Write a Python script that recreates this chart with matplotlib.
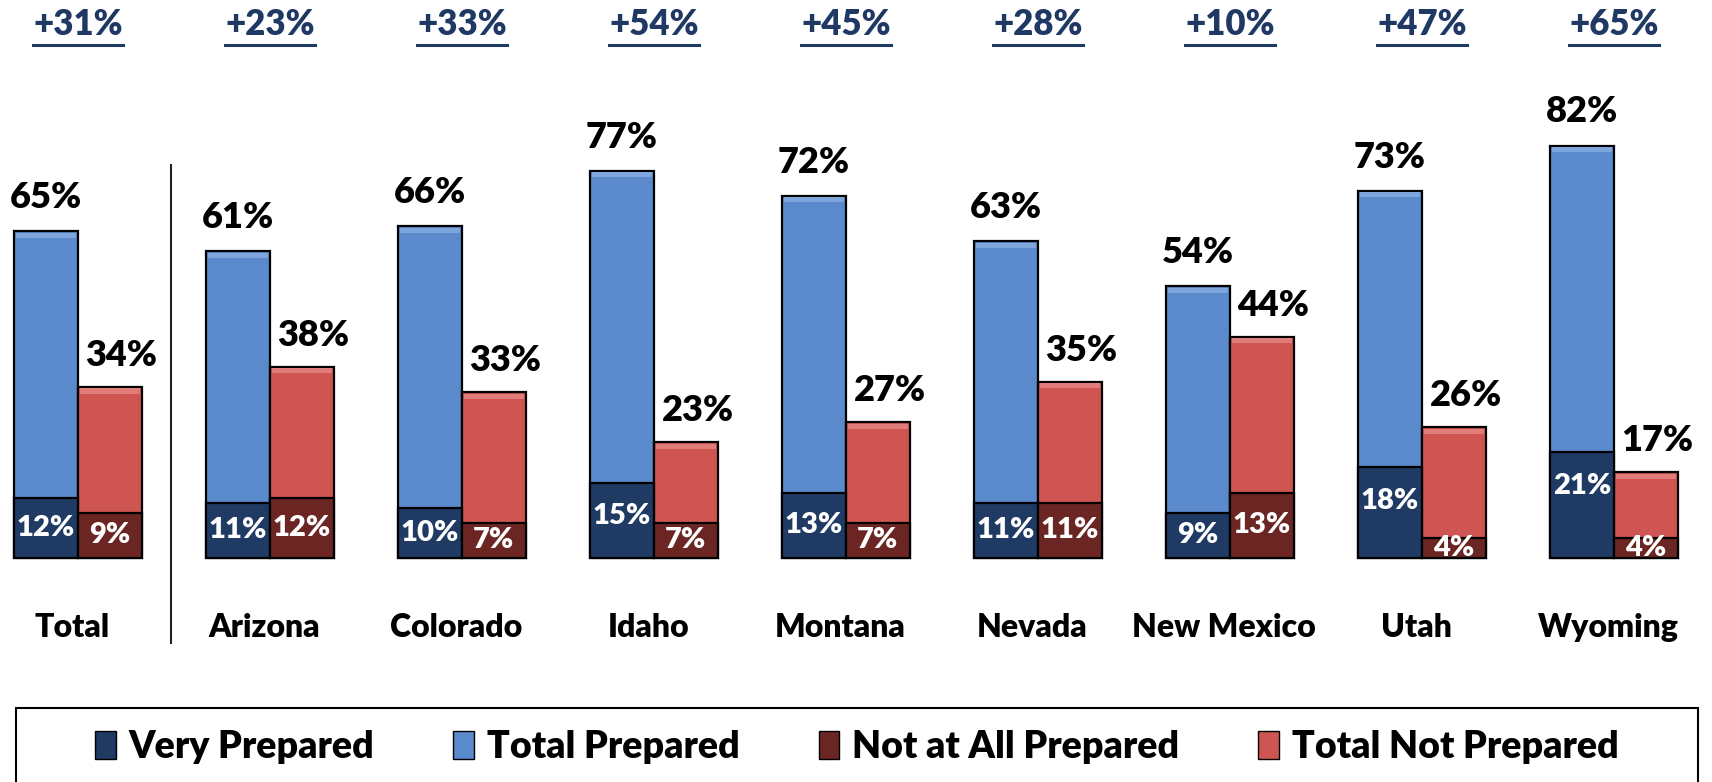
import matplotlib
matplotlib.use('Agg')
import matplotlib.pyplot as plt
import numpy as np
from matplotlib.patches import Patch, Rectangle
from matplotlib.lines import Line2D
from matplotlib.transforms import Bbox, TransformedBbox

plt.rcParams['font.family'] = ['Lato', 'DejaVu Sans']
plt.rcParams['font.weight'] = 'heavy'

categories = ['Total', 'Arizona', 'Colorado', 'Idaho', 'Montana', 'Nevada', 'New Mexico', 'Utah', 'Wyoming']
total_prepared = [65, 61, 66, 77, 72, 63, 54, 73, 82]
very_prepared = [12, 11, 10, 15, 13, 11, 9, 18, 21]
total_not_prepared = [34, 38, 33, 23, 27, 35, 44, 26, 17]
not_at_all_prepared = [9, 12, 7, 7, 7, 11, 13, 4, 4]
gap_labels = ['+31%', '+23%', '+33%', '+54%', '+45%', '+28%', '+10%', '+47%', '+65%']

c_blue = '#5A8ACB'
c_dblue = '#1F3A63'
c_red = '#CF5552'
c_dred = '#6B2624'
c_navy = '#1F3864'
wt = 'heavy'

fig = plt.figure(figsize=(17.12, 7.82), dpi=100)
ax = fig.add_axes([0, 0, 1, 1])
ax.set_xlim(-46 / 192, (1712 - 46) / 192)
ax.set_ylim(-(782 - 558) / 5.03, 558 / 5.03)
ax.axis('off')

x = np.arange(len(categories))
w = 1 / 3
xr = x + w
edge = dict(edgecolor='black', linewidth=1.6)

ax.bar(x, total_prepared, w, color=c_blue, **edge, zorder=2)
ax.bar(x, very_prepared, w, color=c_dblue, **edge, zorder=3)
ax.bar(xr, total_not_prepared, w, color=c_red, **edge, zorder=2)
ax.bar(xr, not_at_all_prepared, w, color=c_dred, **edge, zorder=3)

# top highlight strip for a bit of bevel look
for xs, vals, col in [(x, total_prepared, '#7FA6DC'), (xr, total_not_prepared, '#E07C79')]:
    for xi, v in zip(xs, vals):
        ax.add_patch(Rectangle((xi - w / 2 + 0.01, v - 1.3), w - 0.02, 1.0,
                               color=col, lw=0, zorder=4))

clip = TransformedBbox(Bbox([[-1, 0], [10, 200]]), ax.transData)

for i in range(len(categories)):
    ax.text(x[i], total_prepared[i] + 4.6, f'{total_prepared[i]}%', ha='center',
            va='baseline', fontsize=26, fontweight=wt, color='black')
    ax.text(xr[i] + 0.06, total_not_prepared[i] + 4.2, f'{total_not_prepared[i]}%',
            ha='center', va='baseline', fontsize=26, fontweight=wt, color='black')
    for xx, v in [(x[i], very_prepared[i]), (xr[i], not_at_all_prepared[i])]:
        t = ax.text(xx, max(v - 6.7, v / 2), f'{v}%', ha='center', va='center',
                    fontsize=21, fontweight=wt, color='white', zorder=6)
        t.set_clip_box(clip)
        t.set_clip_on(True)
    ax.text(x[i] + w / 2 - 0.03, -13.9, categories[i], ha='center', va='center',
            fontsize=23, fontweight=wt, color='black')

gap_texts = []
for i in range(len(categories)):
    t = ax.text(x[i] + w / 2, 106.0, gap_labels[i], ha='center', va='center',
                fontsize=25, fontweight=wt, color=c_navy)
    gap_texts.append(t)

# divider between Total and states
ax.plot([(171 - 46) / 192] * 2, [(558 - 165) / 5.03, (558 - 643) / 5.03],
        color='#222222', lw=1.5)

# underline the gap labels
fig.canvas.draw()
r = fig.canvas.get_renderer()
H = fig.bbox.height
for t in gap_texts:
    bb = t.get_window_extent(r)
    yl = (H - 45) / H
    fig.add_artist(Line2D([bb.x0 / 1712, bb.x1 / 1712], [yl, yl],
                          transform=fig.transFigure, color=c_navy, lw=2.2))

# legend box
fig.add_artist(Rectangle((16 / 1712, -0.02), (1698 - 16) / 1712, (782 - 708) / 782 + 0.02,
                         transform=fig.transFigure, fill=False, edgecolor='black', lw=1.5))
handles = [Patch(facecolor=c_dblue, edgecolor='black', label='Very Prepared'),
           Patch(facecolor=c_blue, edgecolor='black', label='Total Prepared'),
           Patch(facecolor=c_dred, edgecolor='black', label='Not at All Prepared'),
           Patch(facecolor=c_red, edgecolor='black', label='Total Not Prepared')]
fig.legend(handles=handles, loc='center', bbox_to_anchor=(857 / 1712, 1 - 747 / 782),
           ncol=4, frameon=False, prop={'size': 27, 'weight': wt},
           handlelength=0.55, handleheight=0.8, handletextpad=0.35, columnspacing=2.1)

fig.savefig('out.png', dpi=100)
